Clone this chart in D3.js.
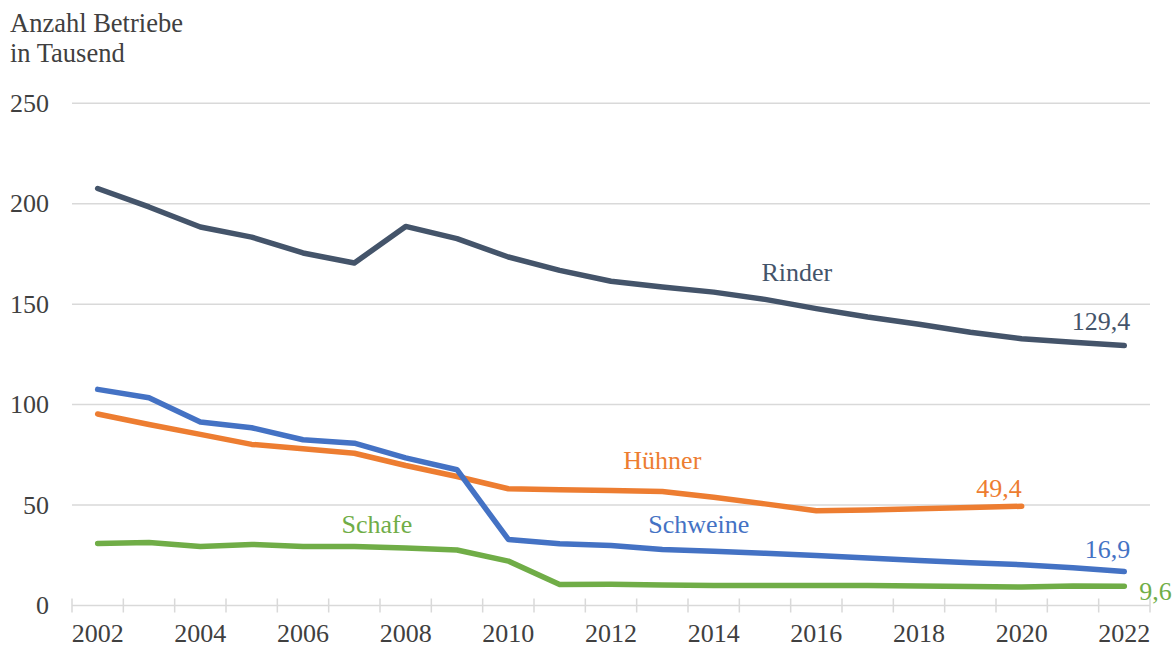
<!DOCTYPE html>
<html>
<head>
<meta charset="utf-8">
<script src="https://cdn.jsdelivr.net/npm/d3@7"></script>
<style>
  body { margin: 0; background: #fff; }
</style>
</head>
<body>
<div class="chart"></div>
<script>
const years = d3.range(2002, 2023);
const tickYears = [2002, 2004, 2006, 2008, 2010, 2012, 2014, 2016, 2018, 2020, 2022];
const yTicks = [0, 50, 100, 150, 200, 250];

const rinder = [207.6, 198.4, 188.4, 183.4, 175.5, 170.5, 188.7, 182.6, 173.5, 166.8, 161.4,
  158.5, 156.0, 152.4, 147.8, 143.6, 140.0, 136.0, 132.8, 131.1, 129.4];
const schweine = [107.6, 103.4, 91.3, 88.5, 82.5, 80.8, 73.5, 67.6, 32.9, 30.7, 29.9,
  27.9, 27.0, 26.0, 24.9, 23.7, 22.4, 21.3, 20.3, 18.8, 16.9];
const huehner = [95.3, 90.1, 85.2, 80.2, 78.0, 75.8, 69.7, 64.2, 58.1, 57.6, 57.3,
  56.8, 53.9, 50.6, 47.2, 47.5, 48.2, 48.8, 49.4, null, null];
const schafe = [30.9, 31.4, 29.4, 30.4, 29.4, 29.4, 28.6, 27.6, 22.1, 10.5, 10.6,
  10.2, 10.0, 10.0, 9.9, 10.0, 9.7, 9.5, 9.2, 9.7, 9.6];

// name labels: [text, year position, value]
const names = [
  ['Rinder', 2015.62, 161.5],
  ['Hühner', 2013.0, 67.8],
  ['Schweine', 2013.71, 35.9],
  ['Schafe', 2007.44, 36.1]
];

const series = [
  { key: 'Rinder', values: rinder, color: '#44546a', end: '129,4', anchor: 'end', dx: 6, dy: -16 },
  { key: 'Hühner', values: huehner, color: '#ed7d31', end: '49,4', anchor: 'end', dx: 0, dy: -9 },
  { key: 'Schweine', values: schweine, color: '#4472c4', end: '16,9', anchor: 'end', dx: 6, dy: -14 },
  { key: 'Schafe', values: schafe, color: '#70ad47', end: '9,6', anchor: 'start', dx: 15, dy: 14 }
];

const width = 1173;
const height = 648;
const m = { left: 72, right: 1150, top: 103.3, bottom: 605.5 };
const serif = "'Liberation Serif', 'Times New Roman', Tinos, 'DejaVu Serif', serif";

const svg = d3.select('.chart').append('svg')
  .attr('width', width)
  .attr('height', height)
  .attr('font-family', serif)
  .style('font-family', serif);

const x = d3.scaleBand().domain(years).range([m.left, m.right]).padding(0);
const cx = (yr) => x(yr) + x.bandwidth() / 2;
const xl = d3.scaleLinear().domain([2002, 2022]).range([cx(2002), cx(2022)]);
const y = d3.scaleLinear().domain([0, 250]).range([m.bottom, m.top]);

// title
svg.append('text').attr('x', 10).attr('y', 31.5)
  .attr('font-size', '26.5px').attr('fill', '#404040').text('Anzahl Betriebe');
svg.append('text').attr('x', 10).attr('y', 61.5)
  .attr('font-size', '26.5px').attr('fill', '#404040').text('in Tausend');

// gridlines
svg.append('g')
  .selectAll('line')
  .data(yTicks.filter((d) => d > 0))
  .enter()
  .append('line')
  .attr('x1', m.left).attr('x2', m.right)
  .attr('y1', (d) => y(d)).attr('y2', (d) => y(d))
  .attr('stroke', '#d9d9d9').attr('stroke-width', 1.5);

// y labels
svg.append('g')
  .selectAll('text')
  .data(yTicks)
  .enter()
  .append('text')
  .attr('x', 49)
  .attr('y', (d) => y(d) + 8.5)
  .attr('text-anchor', 'end')
  .attr('font-size', '26px')
  .attr('fill', '#404040')
  .text((d) => d);

// x axis
const xAxis = svg.append('g');
xAxis.append('line')
  .attr('x1', m.left).attr('x2', m.right)
  .attr('y1', m.bottom).attr('y2', m.bottom)
  .attr('stroke', '#d9d9d9').attr('stroke-width', 1.5);
xAxis.selectAll('.tick')
  .data(years.concat([2023]))
  .enter()
  .append('line')
  .attr('x1', (d) => (d === 2023 ? m.right : x(d)))
  .attr('x2', (d) => (d === 2023 ? m.right : x(d)))
  .attr('y1', m.bottom - 7).attr('y2', m.bottom + 7)
  .attr('stroke', '#d9d9d9').attr('stroke-width', 1.5);
xAxis.selectAll('text')
  .data(tickYears)
  .enter()
  .append('text')
  .attr('x', (d) => cx(d))
  .attr('y', 641.5)
  .attr('text-anchor', 'middle')
  .attr('font-size', '26px')
  .attr('fill', '#404040')
  .text((d) => d);

// lines
const line = d3.line()
  .defined((d) => d != null)
  .x((d, i) => cx(years[i]))
  .y((d) => y(d));

svg.append('g')
  .selectAll('path')
  .data(series)
  .enter()
  .append('path')
  .attr('d', (s) => line(s.values))
  .attr('fill', 'none')
  .attr('stroke', (s) => s.color)
  .attr('stroke-width', 5.5)
  .attr('stroke-linecap', 'round')
  .attr('stroke-linejoin', 'round');

// end labels
const lastIdx = (s) => d3.max(s.values.map((v, j) => (v != null ? j : -1)));
svg.append('g')
  .selectAll('text')
  .data(series)
  .enter()
  .append('text')
  .attr('x', (s) => cx(years[lastIdx(s)]) + s.dx)
  .attr('y', (s) => y(s.values[lastIdx(s)]) + s.dy)
  .attr('text-anchor', (s) => s.anchor)
  .attr('font-size', '26px')
  .attr('fill', (s) => s.color)
  .text((s) => s.end);

// series names
const colorOf = new Map(series.map((s) => [s.key, s.color]));
svg.append('g')
  .selectAll('text')
  .data(names)
  .enter()
  .append('text')
  .attr('x', (d) => xl(d[1]))
  .attr('y', (d) => y(d[2]))
  .attr('text-anchor', 'middle')
  .attr('font-size', '26px')
  .attr('fill', (d) => colorOf.get(d[0]))
  .text((d) => d[0]);
</script>
</body>
</html>
